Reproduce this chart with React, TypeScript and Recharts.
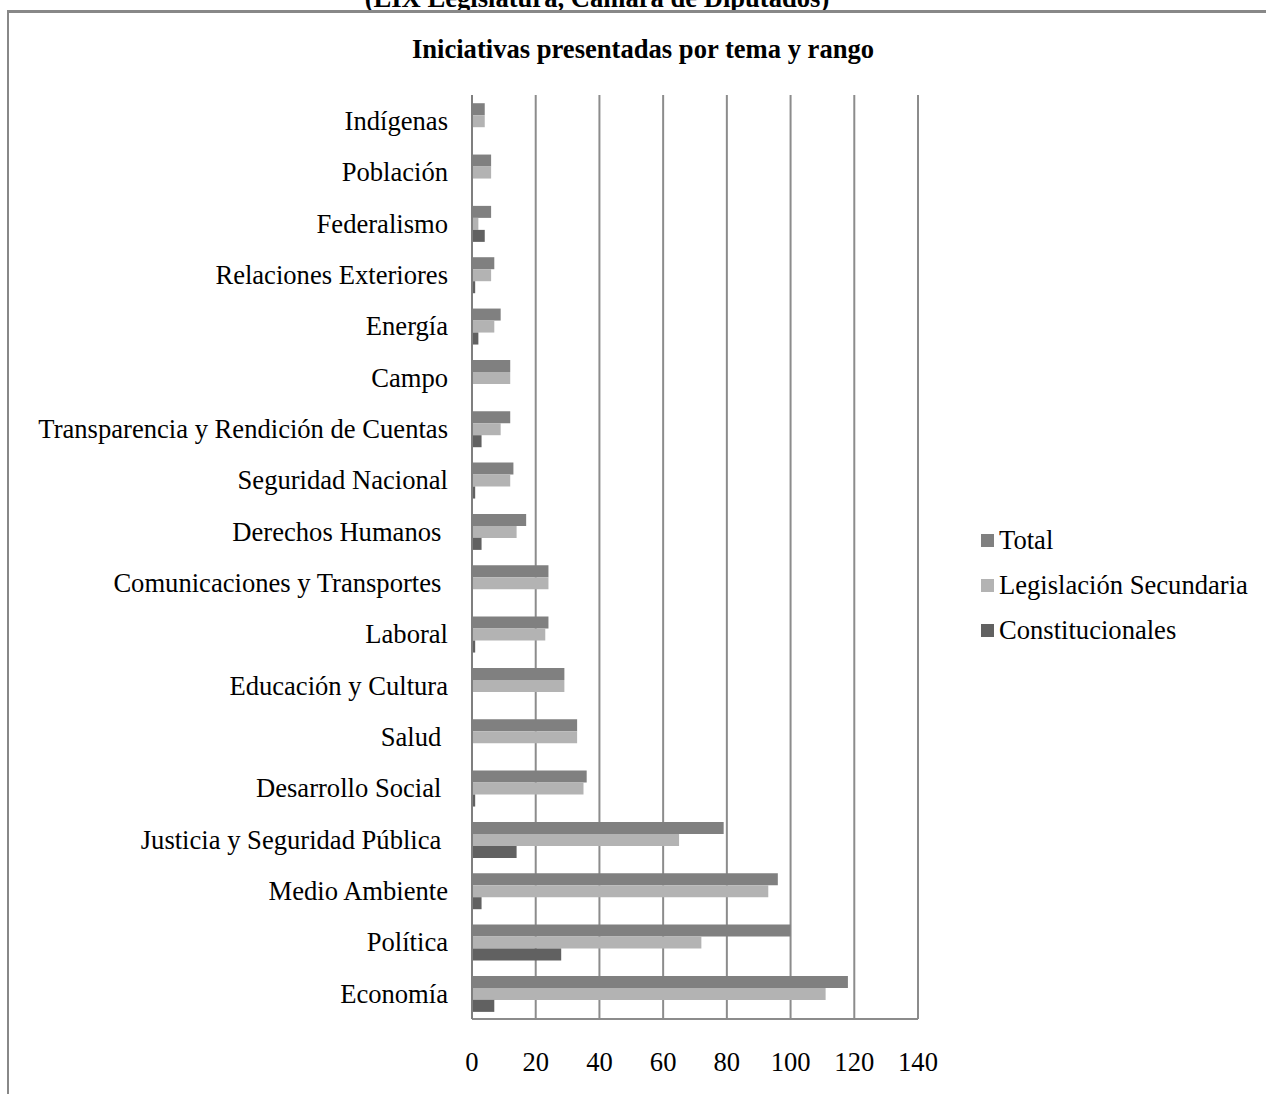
import React from "react";
import { BarChart, Bar, XAxis, YAxis, CartesianGrid } from "recharts";

const categories = [
  "Indígenas",
  "Población",
  "Federalismo",
  "Relaciones Exteriores",
  "Energía",
  "Campo",
  "Transparencia y Rendición de Cuentas",
  "Seguridad Nacional",
  "Derechos Humanos ",
  "Comunicaciones y Transportes ",
  "Laboral",
  "Educación y Cultura",
  "Salud ",
  "Desarrollo Social ",
  "Justicia y Seguridad Pública ",
  "Medio Ambiente",
  "Política",
  "Economía",
];

const total = [4, 6, 6, 7, 9, 12, 12, 13, 17, 24, 24, 29, 33, 36, 79, 96, 100, 118];
const legislacion = [4, 6, 2, 6, 7, 12, 9, 12, 14, 24, 23, 29, 33, 35, 65, 93, 72, 111];
const constitucionales = [0, 0, 4, 1, 2, 0, 3, 1, 3, 0, 1, 0, 0, 1, 14, 3, 28, 7];

const xTicks = [0, 20, 40, 60, 80, 100, 120, 140];

const seriesNames = ["Total", "Legislación Secundaria", "Constitucionales"];
const seriesColors = ["#808080", "#b3b3b3", "#616161"];

const data = categories.map((tema, i) => ({
  tema,
  total: total[i],
  legislacion: legislacion[i],
  constitucionales: constitucionales[i],
}));

const FONT = '"Liberation Serif", "Times New Roman", serif';
const FS = 26.6;

const YTick = ({ y, payload }: any) => (
  <text
    x={448}
    y={y}
    dy="0.35em"
    textAnchor="end"
    fontSize={FS}
    fontFamily={FONT}
    fill="#000"
    style={{ whiteSpace: "pre" }}
  >
    {payload.value}
  </text>
);

const XTick = ({ x, y, payload }: any) => (
  <text x={x} y={y + 52} textAnchor="middle" fontSize={FS} fontFamily={FONT} fill="#000">
    {payload.value}
  </text>
);

// legend kept outside the chart so it doesn't eat plot space
const LegendBox = () => (
  <div style={{ position: "absolute", left: 981, top: 517.5, fontFamily: FONT, fontSize: FS, color: "#000" }}>
    {seriesNames.map((name, i) => (
      <div key={name} style={{ position: "relative", height: 45, lineHeight: "45px", paddingLeft: 18, whiteSpace: "nowrap" }}>
        <span
          style={{
            position: "absolute",
            left: 0,
            top: 16,
            width: 13,
            height: 13,
            background: seriesColors[i],
          }}
        />
        {name}
      </div>
    ))}
  </div>
);

export default function App() {
  return (
    <div style={{ position: "absolute", left: 0, top: 0, width: 1266, height: 1094, background: "#fff", overflow: "hidden" }}>
      <svg width={1266} height={1094} style={{ position: "absolute", left: 0, top: 0 }}>
        <text x={597} y={7} textAnchor="middle" fontSize={FS} fontWeight="bold" fontFamily={FONT} fill="#000">
          (LIX Legislatura, Cámara de Diputados)
        </text>
        <line x1={8} y1={11.5} x2={1266} y2={11.5} stroke="#888" strokeWidth={3} />
        <line x1={8} y1={10} x2={8} y2={1094} stroke="#888" strokeWidth={2} />
        <text x={643} y={58} textAnchor="middle" fontSize={FS} fontWeight="bold" fontFamily={FONT} fill="#000">
          Iniciativas presentadas por tema y rango
        </text>
      </svg>
      <div style={{ position: "absolute", left: 0, top: 0 }}>
        <BarChart
          width={1266}
          height={1094}
          data={data}
          layout="vertical"
          margin={{ top: 95, right: 348, bottom: 0, left: 0 }}
          barCategoryGap="16%"
          barGap={0}
        >
          <CartesianGrid horizontal={false} stroke="#8c8c8c" strokeWidth={2} />
          <XAxis
            type="number"
            domain={[0, 140]}
            ticks={xTicks}
            height={75}
            tickLine={false}
            tickSize={0}
            tickMargin={0}
            axisLine={{ stroke: "#8c8c8c", strokeWidth: 2 }}
            tick={<XTick />}
            interval={0}
          />
          <YAxis
            type="category"
            dataKey="tema"
            width={472}
            tickLine={false}
            axisLine={{ stroke: "#7f7f7f", strokeWidth: 2 }}
            tick={<YTick />}
            interval={0}
          />
          <Bar dataKey="total" name={seriesNames[0]} fill={seriesColors[0]} isAnimationActive={false} />
          <Bar dataKey="legislacion" name={seriesNames[1]} fill={seriesColors[1]} isAnimationActive={false} />
          <Bar dataKey="constitucionales" name={seriesNames[2]} fill={seriesColors[2]} isAnimationActive={false} />
        </BarChart>
      </div>
      <LegendBox />
    </div>
  );
}
